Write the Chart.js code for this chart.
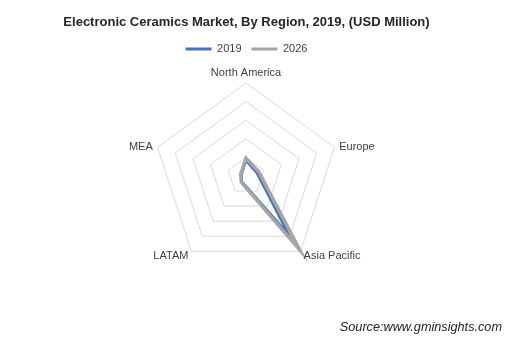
<!DOCTYPE html>
<html><head><meta charset="utf-8">
<script src="https://cdn.jsdelivr.net/npm/chart.js@4"></script>
<style>
html,body{margin:0;padding:0;background:#fff;}
#wrap{position:relative;width:518px;height:347px;}
#src{position:absolute;right:16px;top:320px;line-height:14px;font:italic 12.7px "Liberation Sans",Arial,sans-serif;color:#222;white-space:nowrap;}
</style></head><body>
<div id="wrap"><canvas id="c" width="518" height="347"></canvas><div id="src">Source:www.gminsights.com</div></div>
<script>
const regions = ['North America', 'Europe', 'Asia Pacific', 'LATAM', 'MEA'];
const values2019 = [1650, 1200, 7800, 750, 500];
const values2026 = [1900, 1450, 9800, 850, 600];
const seriesNames = ['2019', '2026'];
const scaleMax = 10000;
const scaleStep = 2000;

const FONT = '"Liberation Sans", Arial, sans-serif';

const pointLabelPlugin = {
  id: 'customPointLabels',
  afterDraw(chart) {
    const r = chart.scales.r;
    const ctx = chart.ctx;
    const labels = chart.data.labels;
    const n = labels.length;
    ctx.save();
    ctx.font = '11px ' + FONT;
    ctx.fillStyle = '#404040';
    labels.forEach((lab, i) => {
      const angle = 360 / n * i;
      const p = r.getPointPosition(i, r.drawingArea + 5);
      let y = p.y;
      if (angle === 0) { ctx.textAlign = 'center'; ctx.textBaseline = 'bottom'; }
      else if (angle < 180) { ctx.textAlign = 'left'; ctx.textBaseline = 'middle'; y += 1; }
      else { ctx.textAlign = 'right'; ctx.textBaseline = 'middle'; y += 1; }
      ctx.fillText(lab, p.x, y);
    });
    ctx.restore();
  }
};

new Chart(document.getElementById('c'), {
  type: 'radar',
  data: {
    labels: regions,
    datasets: [
      { label: seriesNames[0], data: values2019, borderColor: '#4472C4', backgroundColor: '#4472C4', borderWidth: 2.5, fill: false, pointRadius: 0, pointHoverRadius: 0, order: 1 },
      { label: seriesNames[1], data: values2026, borderColor: '#A5A5A5', backgroundColor: '#A5A5A5', borderWidth: 3.5, fill: false, pointRadius: 0, pointHoverRadius: 0, order: 0 }
    ]
  },
  options: {
    responsive: false,
    devicePixelRatio: 1,
    animation: false,
    layout: { padding: { left: 0, right: 25, top: 0, bottom: 78 } },
    elements: { line: { tension: 0 } },
    scales: {
      r: {
        min: 0, max: scaleMax,
        ticks: { display: false, stepSize: scaleStep },
        angleLines: { display: false },
        grid: { color: '#d9d9d9', lineWidth: 1 },
        pointLabels: { display: false }
      }
    },
    plugins: {
      title: {
        display: true,
        text: 'Electronic Ceramics Market, By Region, 2019, (USD Million)',
        color: '#262626',
        font: { family: FONT, size: 13, weight: 'bold' },
        padding: { top: 15, bottom: 3 }
      },
      legend: {
        display: true,
        position: 'top',
        weight: 1800,
        labels: {
          color: '#404040',
          font: { family: FONT, size: 11 },
          boxWidth: 26,
          boxHeight: 3,
          padding: 10,
          sort: (a, b) => a.datasetIndex - b.datasetIndex,
          generateLabels: (chart) => Chart.defaults.plugins.legend.labels.generateLabels(chart)
            .map(l => Object.assign({}, l, { fillStyle: l.strokeStyle, lineWidth: 0 }))
        }
      },
      subtitle: {
        display: true,
        text: '',
        font: { family: FONT, size: 10 },
        padding: { top: 6.4, bottom: 0 }
      },
      tooltip: { enabled: false }
    }
  },
  plugins: [pointLabelPlugin]
});
</script>
</body></html>
